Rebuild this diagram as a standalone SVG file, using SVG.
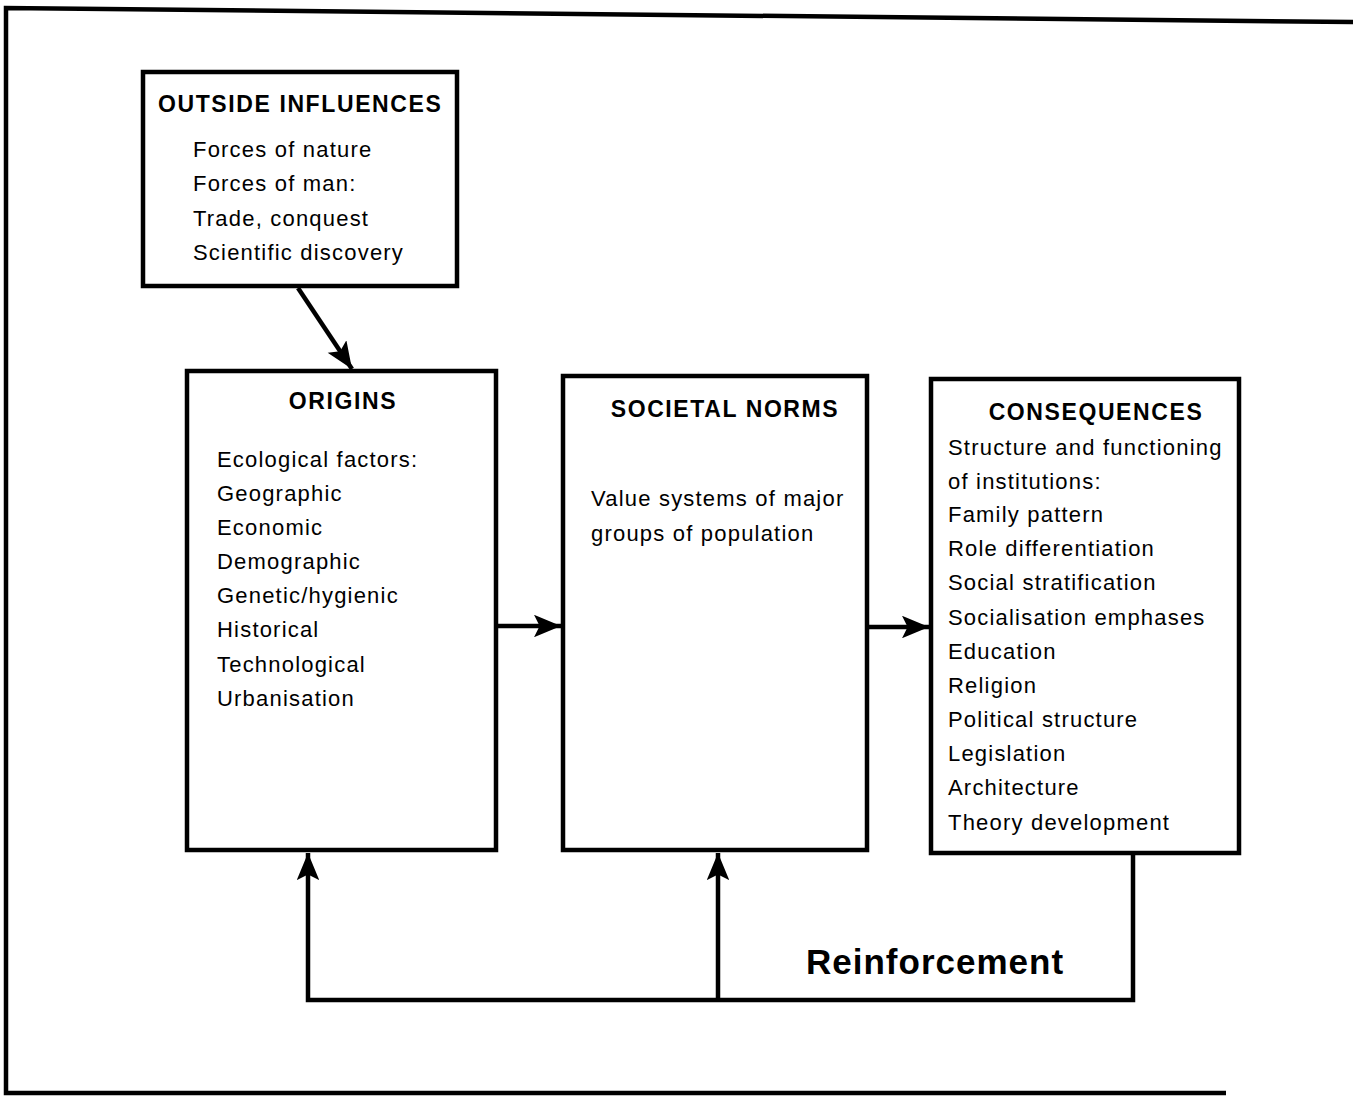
<svg xmlns="http://www.w3.org/2000/svg" width="1353" height="1096" viewBox="0 0 1353 1096">
<style>
.box{fill:#fff;stroke:#000;stroke-width:4.5}
.t{font-family:"Liberation Sans",Arial,sans-serif;font-weight:bold;font-size:23px;fill:#000;letter-spacing:1.6px}
.b{font-family:"Liberation Sans",Arial,sans-serif;font-size:22px;fill:#000;letter-spacing:1.2px}
.c{fill:none;stroke:#000;stroke-width:4.5}
.r{font-family:"Liberation Sans",Arial,sans-serif;font-weight:bold;font-size:35px;fill:#000;letter-spacing:1px}
</style>
<defs>
<marker id="ah" viewBox="0 0 12 10" refX="12" refY="5" markerWidth="8" markerHeight="5" markerUnits="strokeWidth" orient="auto">
<path d="M0,0 L12,5 L0,10 L2.5,5 Z" fill="#000"/>
</marker>
</defs>
<path class="c" d="M1353 22 L6 8 L6 1093 L1226 1093" stroke-width="5.5"/>
<g id="outside">
<rect class="box" x="143" y="72" width="314" height="214"/>
<text class="t" x="158" y="112">OUTSIDE INFLUENCES</text>
<text class="b" x="193" y="157">Forces of nature</text>
<text class="b" x="193" y="191">Forces of man:</text>
<text class="b" x="193" y="226">Trade, conquest</text>
<text class="b" x="193" y="260">Scientific discovery</text>
</g>
<g id="origins">
<rect class="box" x="187" y="371" width="309" height="479"/>
<text class="t" x="343" y="409" text-anchor="middle">ORIGINS</text>
<text class="b" x="217" y="467">Ecological factors:</text>
<text class="b" x="217" y="501">Geographic</text>
<text class="b" x="217" y="535">Economic</text>
<text class="b" x="217" y="569">Demographic</text>
<text class="b" x="217" y="603">Genetic/hygienic</text>
<text class="b" x="217" y="637">Historical</text>
<text class="b" x="217" y="672">Technological</text>
<text class="b" x="217" y="706">Urbanisation</text>
</g>
<g id="norms">
<rect class="box" x="563" y="376" width="304" height="474"/>
<text class="t" x="725" y="417" text-anchor="middle">SOCIETAL NORMS</text>
<text class="b" x="591" y="506">Value systems of major</text>
<text class="b" x="591" y="541">groups of population</text>
</g>
<g id="consequences">
<rect class="box" x="931" y="379" width="308" height="474"/>
<text class="t" x="1096" y="420" text-anchor="middle">CONSEQUENCES</text>
<text class="b" x="948" y="455">Structure and functioning</text>
<text class="b" x="948" y="489">of institutions:</text>
<text class="b" x="948" y="522">Family pattern</text>
<text class="b" x="948" y="556">Role differentiation</text>
<text class="b" x="948" y="590">Social stratification</text>
<text class="b" x="948" y="625">Socialisation emphases</text>
<text class="b" x="948" y="659">Education</text>
<text class="b" x="948" y="693">Religion</text>
<text class="b" x="948" y="727">Political structure</text>
<text class="b" x="948" y="761">Legislation</text>
<text class="b" x="948" y="795">Architecture</text>
<text class="b" x="948" y="830">Theory development</text>
</g>
<g id="connectors">
<line class="c" x1="298" y1="288" x2="352" y2="369" marker-end="url(#ah)"/>
<line class="c" x1="498" y1="626" x2="561" y2="626" marker-end="url(#ah)"/>
<line class="c" x1="869" y1="627" x2="929" y2="627" marker-end="url(#ah)"/>
<path class="c" d="M1133 855 L1133 1000 L308 1000 L308 853" marker-end="url(#ah)"/>
<line class="c" x1="718" y1="1000" x2="718" y2="853" marker-end="url(#ah)"/>
<text class="r" x="806" y="974">Reinforcement</text>
</g>
</svg>
